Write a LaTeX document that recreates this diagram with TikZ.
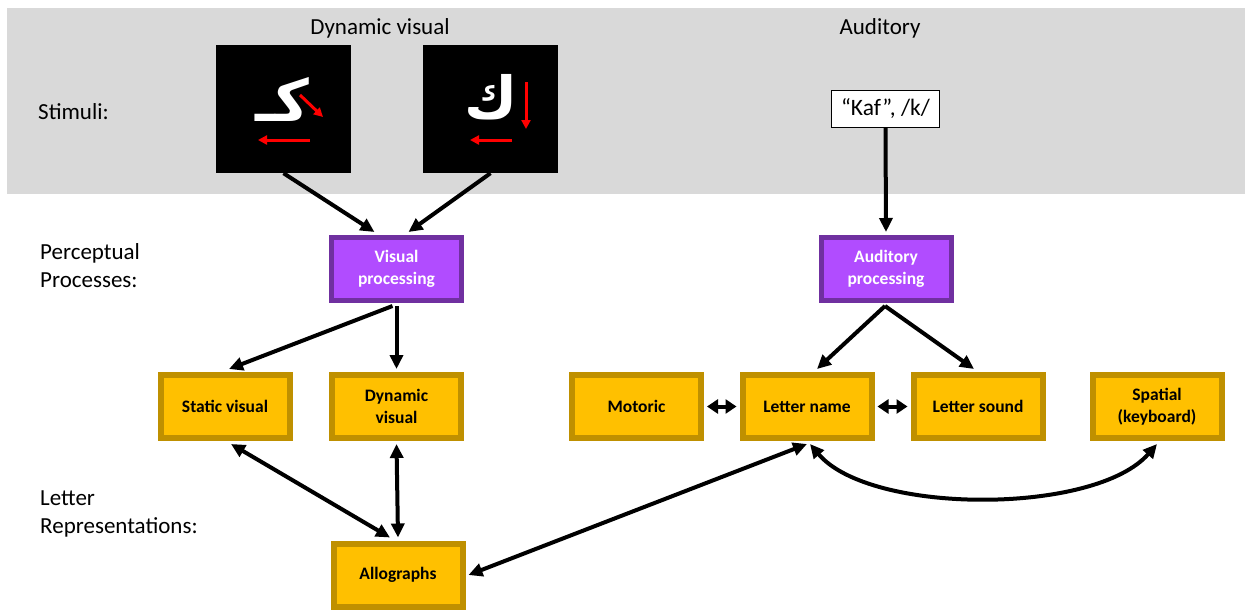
\documentclass[tikz,border=0pt]{standalone}
\usepackage{fontspec}
\setmainfont{Carlito}
\newfontfamily\arabicfont[Script=Arabic]{DejaVu Sans}
\TeXXeTstate=1
\usetikzlibrary{arrows.meta,calc}
\definecolor{bggray}{HTML}{D9D9D9}
\definecolor{procfill}{HTML}{B14CFF}
\definecolor{procborder}{HTML}{7030A0}
\definecolor{repfill}{HTML}{FFC000}
\definecolor{repborder}{HTML}{BF9000}
\definecolor{arrred}{HTML}{FF0000}
\tikzset{
  boxtext/.style={font=\fontsize{17.5}{22}\selectfont\bfseries, align=center, inner sep=0pt},
  proc/.style={boxtext, draw=procborder, fill=procfill, line width=5pt, minimum width=130pt, minimum height=63pt, text=white},
  rep/.style={boxtext, draw=repborder, fill=repfill, line width=6pt, minimum width=129pt, minimum height=63pt, text=black},
  lbl/.style={font=\fontsize{23}{28}\selectfont, align=left, anchor=west, inner sep=0pt},
  head/.style={font=\fontsize{23}{26}\selectfont, inner sep=0pt},
  stim/.style={fill=black, minimum width=135pt, minimum height=128pt, inner sep=0pt},
  arr/.style={line width=4pt, -{Triangle[length=14pt,width=13pt]}},
  darr/.style={line width=4pt, {Triangle[length=14pt,width=13pt]}-{Triangle[length=14pt,width=13pt]}},
  sdarr/.style={line width=4pt, {Triangle[length=11pt,width=14pt]}-{Triangle[length=11pt,width=14pt]}},
  redarr/.style={draw=arrred, line width=3pt, -{Triangle[length=9pt,width=9pt]}},
  glyph/.style={text=white, font=\arabicfont\bfseries\fontsize{58}{64}\selectfont, inner sep=0pt}
}
\begin{document}
\begin{tikzpicture}[x=1pt,y=-1pt]
\useasboundingbox (0,0) rectangle (1252,611);
\fill[bggray] (7,8) rectangle (1245,194);

% headings and row labels
\node[head] (hdyn) at (380,28) {Dynamic visual};
\node[head] (haud) at (880,28) {Auditory};
\node[lbl] (lstim) at (38,112) {Stimuli:};
\node[lbl] (lperc) at (40,266) {Perceptual\\Processes:};
\node[lbl] (lrep) at (40,514) {Letter\\Representations:};

% stimuli
\node[stim] (sq1) at (283.5,109) {};
\node[stim] (sq2) at (490.5,109) {};
\node[glyph] (g1) at (282,99) {\beginR كـ\endR};
\node[glyph] (g2) at (491,97) {\beginR ك\endR};
\draw[redarr] (300,95) -- (323,117);
\draw[redarr] (310,140) -- (258,140);
\draw[redarr] (526,82) -- (526,129);
\draw[redarr] (512,140) -- (470,140);

\node[draw=black, fill=white, line width=1pt, minimum width=108pt, minimum height=37pt, font=\fontsize{23.5}{26}\selectfont, inner sep=0pt] (kaf) at (885.5,109) {“Kaf”, /k/};

% perceptual processes
\node[proc] (vp) at (396.5,269) {Visual\\processing};
\node[proc] (ap) at (886,269) {Auditory\\processing};

% letter representations
\node[rep] (sv) at (225,406.5) {Static visual};
\node[rep] (dv) at (396.5,406.5) {Dynamic\\visual};
\node[rep] (mo) at (636.5,406.5) {Motoric};
\node[rep] (ln) at (807,406.5) {Letter name};
\node[rep] (ls) at (978,406.5) {Letter sound};
\node[rep] (sp) at (1157,406.5) {Spatial\\(keyboard)};
\node[rep] (al) at (398,575) {Allographs};

% connectors
\draw[arr] (sq1.south) -- ($(vp.north)+(-22,-3)$);
\draw[arr] (sq2.south) -- ($(vp.north)+(12,-3)$);
\draw[arr] (kaf.south) -- ($(ap.north)+(0,-3)$);
\draw[arr] ($(vp.south)+(-4,3)$) -- ($(sv.north)+(4,-3)$);
\draw[arr] ($(vp.south)+(0,3)$) -- ($(dv.north)+(0,-3)$);
\draw[arr] ($(ap.south)+(-1,3)$) -- ($(ln.north)+(10,-3)$);
\draw[arr] ($(ap.south)+(-1,3)$) -- ($(ls.north)+(-4,-3)$);
\draw[sdarr] ($(mo.east)+(3,0)$) -- ($(ln.west)+(-3,0)$);
\draw[sdarr] ($(ln.east)+(3,0)$) -- ($(ls.west)+(-3,0)$);
\draw[darr] ($(sv.south)+(6,3)$) -- ($(al.north)+(-8,-3)$);
\draw[darr] ($(dv.south)+(0,3)$) -- ($(al.north)+(0,-3)$);
\draw[darr] ($(al.east)+(3,0)$) -- ($(ln.south)+(0,3)$);
\draw[darr] ($(ln.south)+(3,3)$) .. controls (870,515) and (1095,515) .. ($(sp.south)+(0,3)$);
\end{tikzpicture}
\end{document}
